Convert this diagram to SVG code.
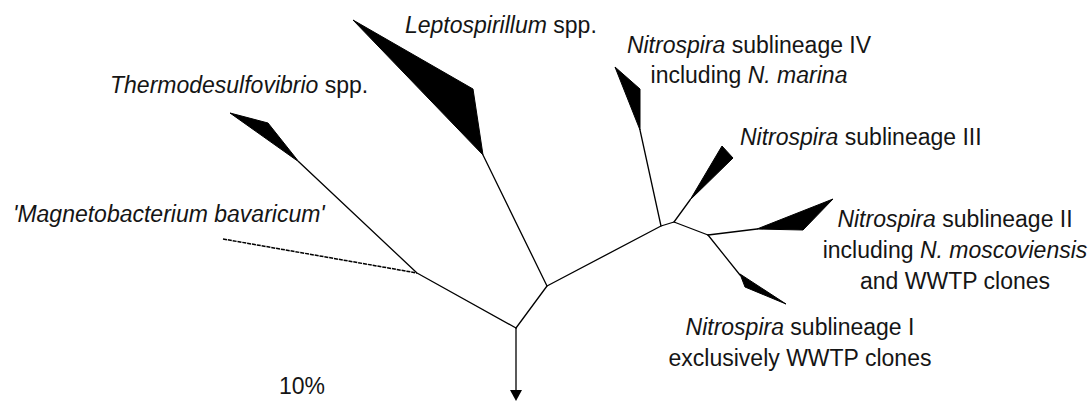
<svg xmlns="http://www.w3.org/2000/svg" width="1090" height="402" viewBox="0 0 1090 402">
<defs>
<style>
text{font-family:"Liberation Sans",Arial,sans-serif;font-size:23px;fill:#151515}
.i{font-style:italic}
.br{fill:none;stroke:#000;stroke-width:1.3;stroke-linecap:round;stroke-linejoin:round}
.dash{stroke-width:1.5;stroke-dasharray:4,0.9;stroke-linecap:butt}
.cl{fill:#000;stroke:#000;stroke-width:1;stroke-linejoin:round}
</style>
</defs>
<rect width="1090" height="402" fill="#fff"/>
<g id="connectors">
<path class="br" d="M299,162 L417,273 L516,328"/>
<path class="br dash" d="M223,239 L417,273"/>
<path class="br" d="M516,328 L547,286 L661,226 L674,222 L708,235"/>
<path class="br" d="M483,155 L547,286"/>
<path class="br" d="M640,130 L661,226"/>
<path class="br" d="M690,200 L674,222"/>
<path class="br" d="M708,235 L757,229"/>
<path class="br" d="M708,235 L740,275"/>
<line class="br" x1="516" y1="328" x2="516" y2="390"/>
<path d="M510,390 L522,390 L516,401 Z" fill="#000"/>
</g>
<g id="thermodesulfovibrio">
<polygon class="cl" points="230,113 268,123 299,162"/>
<text x="110" y="93"><tspan class="i">Thermodesulfovibrio</tspan> spp.</text>
</g>
<g id="magnetobacterium">
<text x="13" y="222" class="i">'Magnetobacterium bavaricum'</text>
</g>
<g id="leptospirillum">
<polygon class="cl" points="353,20 473,89 483,155"/>
<text x="405" y="33"><tspan class="i">Leptospirillum</tspan> spp.</text>
</g>
<g id="sublineage-iv">
<polygon class="cl" points="615,67 640,89 640,130"/>
<text text-anchor="middle"><tspan x="749" y="53"><tspan class="i">Nitrospira</tspan> sublineage IV</tspan><tspan x="749" y="83">including <tspan class="i">N. marina</tspan></tspan></text>
</g>
<g id="sublineage-iii">
<polygon class="cl" points="690,200 722,146 733,158"/>
<text x="740" y="145"><tspan class="i">Nitrospira</tspan> sublineage III</text>
</g>
<g id="sublineage-ii">
<polygon class="cl" points="757,229 833,199 803,230"/>
<text text-anchor="middle"><tspan x="955" y="227"><tspan class="i">Nitrospira</tspan> sublineage II</tspan><tspan x="955" y="258">including <tspan class="i">N. moscoviensis</tspan></tspan><tspan x="955" y="289">and WWTP clones</tspan></text>
</g>
<g id="sublineage-i">
<polygon class="cl" points="740,274 786,304 745,287"/>
<text text-anchor="middle"><tspan x="800" y="335"><tspan class="i">Nitrospira</tspan> sublineage I</tspan><tspan x="800" y="366">exclusively WWTP clones</tspan></text>
</g>
<g id="scale">
<text x="279" y="394">10%</text>
</g>
</svg>
